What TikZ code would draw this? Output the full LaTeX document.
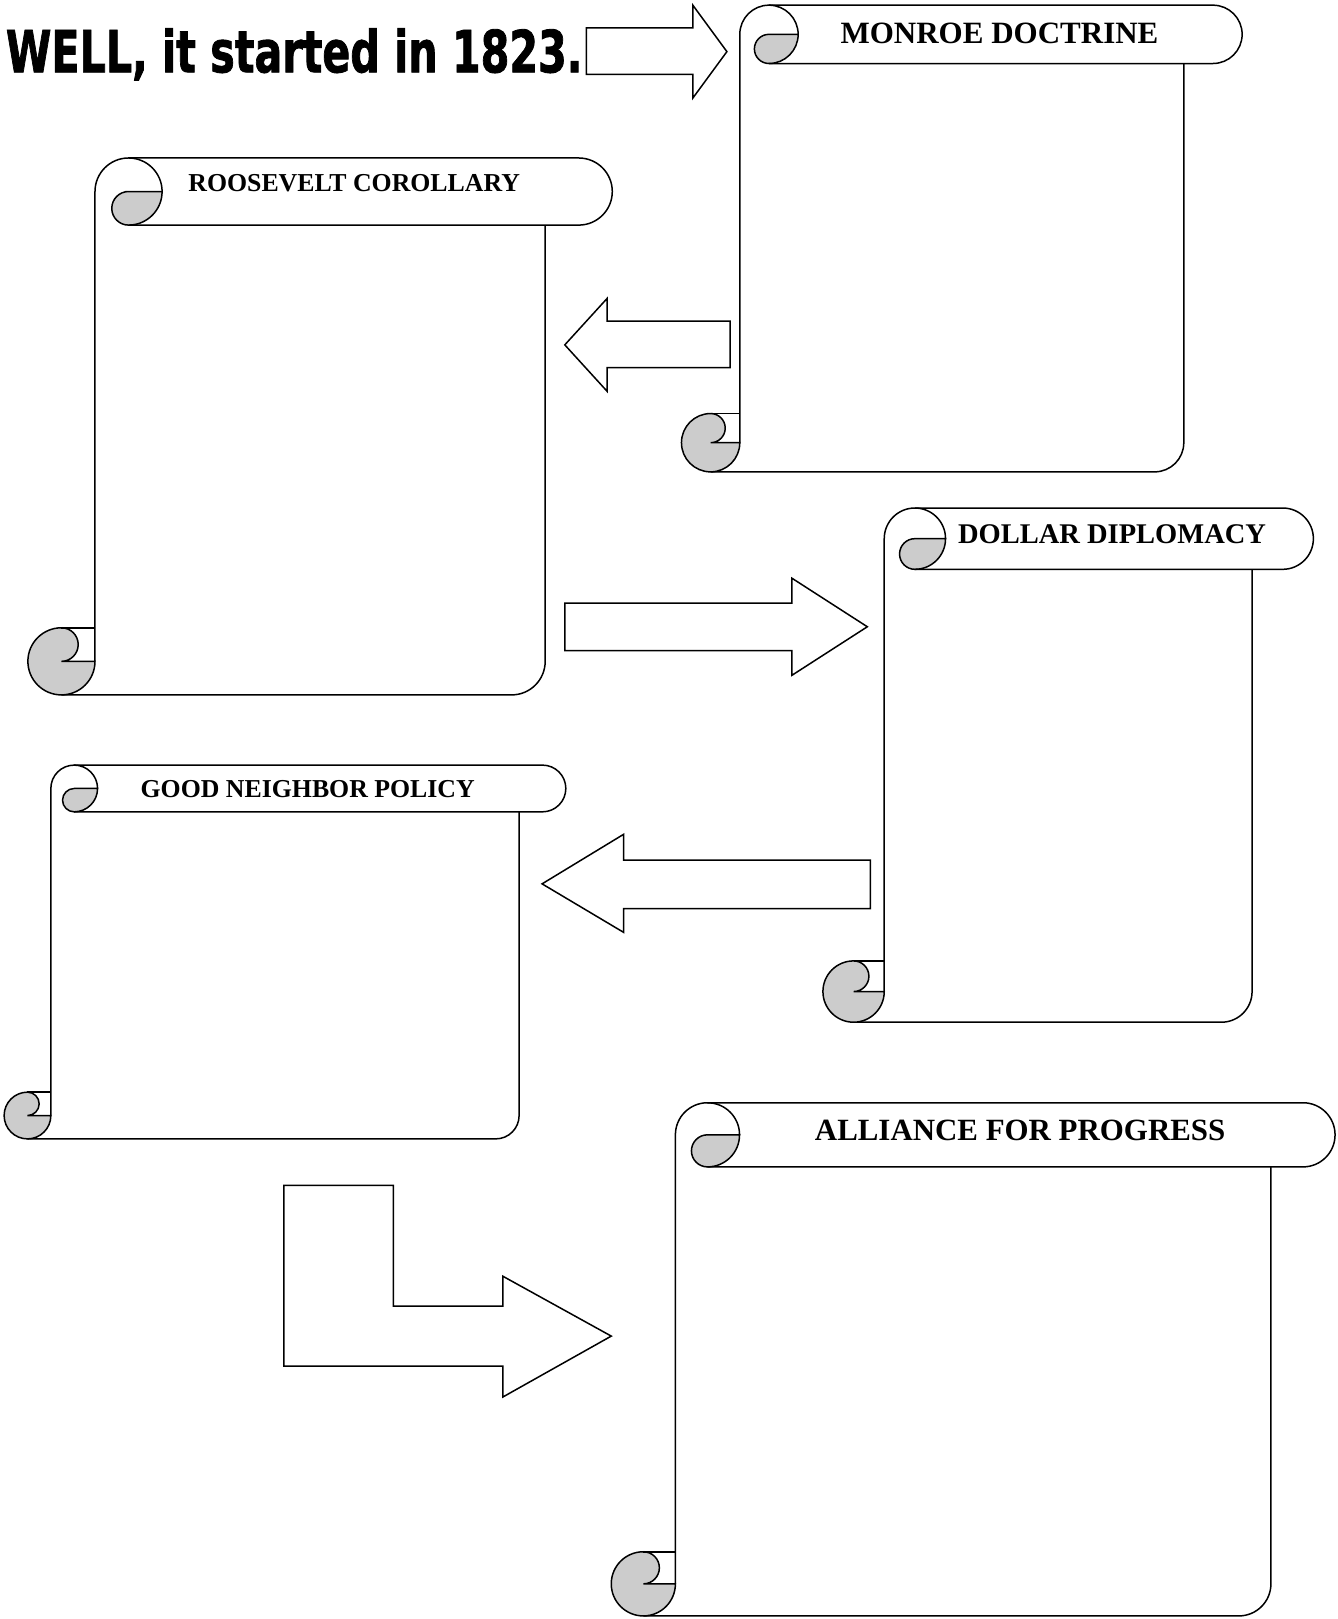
\documentclass[tikz,border=0pt]{standalone}
\usepackage{fontspec}
\setmainfont{Liberation Serif}
\newfontfamily\headfont[BoldFeatures={FakeBold=1.5}]{DejaVu Sans Condensed}
\tikzset{
	curl/.style={fill=gray!40},
	banner/.style={font=\bfseries, inner sep=0pt},
}
% scroll: #1,#2 = left/top, #3,#4 = right/bottom
\newcommand{\scroll}[4]{%
	\pgfmathsetmacro{\scrC}{min(#3-#1,#4-#2)/8}%
	\pgfmathsetmacro{\scrH}{\scrC/2}%
	\pgfmathsetmacro{\scrQ}{\scrC/4}%
	\pgfmathsetmacro{\scrL}{#1+\scrC}%
	\pgfmathsetmacro{\scrR}{#3-\scrC}%
	\filldraw[curl](\scrL+\scrH,#2+\scrH)--(\scrL+\scrC,#2+\scrH)
		arc[start angle=0,end angle=90,radius=\scrH]
		arc[start angle=90,end angle=270,radius=\scrQ]--cycle;
	\draw(\scrL,#4-\scrH)--(\scrL,#2+\scrH)arc[start angle=180,end angle=360,radius=\scrH];
	\draw(\scrL+\scrH,#2)--(#3-\scrH,#2)arc[start angle=-90,end angle=90,radius=\scrH]
		--(\scrL+\scrH,#2+\scrC);
	\draw(\scrR,#2+\scrC)--(\scrR,#4-\scrH)arc[start angle=0,end angle=90,radius=\scrH]
		--(#1+\scrH,#4);
	\filldraw[curl](\scrL-\scrH,#4-\scrC)arc[start angle=270,end angle=0,radius=\scrH]
		--(\scrL-\scrH,#4-\scrH)arc[start angle=90,end angle=-90,radius=\scrQ]--cycle;
	\draw(\scrL-\scrH,#4-\scrC)--(\scrL,#4-\scrC);
}
\begin{document}
\begin{tikzpicture}[x=1.0324pt,y=-1.0324pt,line width=1.5pt]
	\useasboundingbox(0,0)rectangle(1295,1568);
	\node[anchor=base west,inner sep=0pt](title)at(5,70)
		{\headfont\bfseries\fontsize{58}{58}\selectfont\scalebox{0.79}[1]{WELL, it started in 1823.}};
	% scrolls
	\scroll{660}{5}{1203}{457}
	\node[banner,font=\bfseries\fontsize{31}{31}\selectfont](monroe)at(968,32){MONROE DOCTRINE};
	\scroll{27}{153}{593}{673}
	\node[banner,font=\bfseries\fontsize{25.8}{26}\selectfont](roosevelt)at(343,177){ROOSEVELT COROLLARY};
	\scroll{797}{492}{1272}{990}
	\node[banner,font=\bfseries\fontsize{28.5}{29}\selectfont](dollar)at(1077,517){DOLLAR DIPLOMACY};
	\scroll{4}{741}{548}{1103}
	\node[banner,font=\bfseries\fontsize{25.8}{26}\selectfont](neighbor)at(298,764){GOOD NEIGHBOR POLICY};
	\scroll{592}{1068}{1293}{1565}
	\node[banner,font=\bfseries\fontsize{30.9}{31}\selectfont](alliance)at(988,1095){ALLIANCE FOR PROGRESS};
	% block arrows
	\draw(568,27)--(671,27)--(671,5)--(704,50)--(671,95)--(671,72)--(568,72)--cycle;
	\draw(707,311)--(588,311)--(588,289)--(547,334)--(588,379)--(588,356)--(707,356)--cycle;
	\draw(547,584)--(767,584)--(767,560)--(840,607)--(767,654)--(767,630)--(547,630)--cycle;
	\draw(843,833)--(604,833)--(604,808)--(525,856)--(604,903)--(604,880)--(843,880)--cycle;
	\draw(275,1148)--(381,1148)--(381,1265)--(487,1265)--(487,1236)--(592,1294)
		--(487,1353)--(487,1323)--(275,1323)--cycle;
\end{tikzpicture}
\end{document}
